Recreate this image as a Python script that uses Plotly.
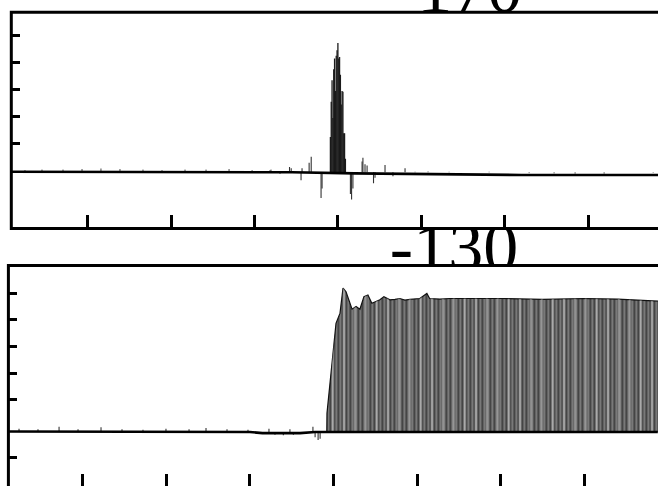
import plotly.graph_objects as go

W, H = 658, 486

# ---------------- data: top panel (-170) ----------------
top_base_x = [8, 150, 280, 330, 345, 420, 500, 560, 620, 700, 784]
top_base_y = [0.02, 0.02, 0.01, 0.0, 0.0, -0.04, -0.07, -0.09, -0.1, -0.1, -0.1]

top_peak_x = [391, 392, 393, 394, 395, 396, 397, 398, 399, 400,
              401, 402, 403, 404, 405, 406, 407, 408, 409]
top_peak_y = [1.3, 2.6, 3.4, 2.0, 3.8, 4.2, 3.0, 4.3, 4.5, 4.77,
              4.2, 4.25, 3.6, 2.5, 3.0, 2.97, 1.44, 1.44, 0.5]

top_side_x = [318.6, 342, 344, 357, 365.5, 368, 429, 430, 432.5, 435, 456.5, 480.5]
top_side_y = [0.08, 0.2, 0.15, 0.15, 0.35, 0.57, 0.4, 0.54, 0.3, 0.25, 0.27, 0.15]

top_neg_x = [330.6, 355.8, 379.8, 381, 415, 416.4, 418, 442.7, 444.5, 466]
top_neg_y = [-0.05, -0.29, -0.95, -0.6, -0.8, -1.0, -0.6, -0.4, -0.2, -0.15]

top_noise_x = [24.8, 45.2, 70.4, 93.2, 115.9, 138.7, 166.3, 189.1, 216.7, 241.9,
               269.5, 297.1, 319.8, 492.5, 508.1, 533.3, 556.1, 581.3, 599.3,
               629.3, 659.2, 684.4, 719.2, 778]
top_noise_y = [0.08, 0.1, 0.1, 0.12, 0.14, 0.12, 0.1, 0.08, 0.1, 0.1,
               0.12, 0.08, 0.1, 0.02, 0.03, 0.02, 0.0, 0.02, 0.0,
               -0.03, -0.04, -0.05, -0.05, -0.02]

# ---------------- data: bottom panel (-130) ----------------
bot_base_x = [11, 300, 315, 360, 378, 788]
bot_base_y = [0.02, 0.0, -0.04, -0.04, 0.0, 0.0]

bot_noise_x = [23.8, 46.5, 71.7, 94.4, 121.9, 147, 172.1, 199.6, 227.2, 247.5,
               272.6, 297.7, 322.8, 347.9, 375.4]
bot_noise_y = [0.12, 0.1, 0.2, 0.1, 0.18, 0.1, 0.08, 0.12, 0.1, 0.15,
               0.1, 0.08, 0.12, 0.1, 0.2]
bot_neg_x = [330, 340, 352, 378, 381.6, 384]
bot_neg_y = [-0.1, -0.12, -0.1, -0.2, -0.3, -0.25]

env_x = [391, 392, 392.2, 395.8, 399.4, 403, 407.8, 411.4, 415, 418.6, 422.2,
         427, 431.6, 436.4, 441.2, 445.9, 450.7, 455.5, 460.3, 467.5, 473.5,
         479.4, 485.4, 491.4, 503.3, 511.7, 515, 527.3, 539.2, 551.2, 600,
         650, 700, 740, 766.7, 778.7, 788.2]
env_y = [0, 0, 0.7, 1.84, 3.07, 4.07, 4.45, 5.39, 5.25, 4.88, 4.6,
         4.7, 4.6, 5.07, 5.13, 4.82, 4.88, 4.95, 5.07, 4.95, 4.97,
         5.0, 4.94, 4.97, 5.0, 5.19, 5.0, 4.98, 5.0, 5.0, 5.0,
         4.97, 5.0, 4.98, 4.95, 4.93, 4.9]

x_ticks = [100, 200, 300, 400, 500, 600, 700]
top_yticks = [1.06, 2.06, 3.06, 4.06, 5.06]
bot_yticks = [-0.95, 1.2, 2.2, 3.2, 4.2, 5.2]

titles = ["-170", "-130"]


def stems(xs, ys, base=0.0):
    sx, sy = [], []
    for x, y in zip(xs, ys):
        sx += [x, x, None]
        sy += [base, y, None]
    return sx, sy


def px_x(p):
    return p / W


def px_y(p):
    return 1 - p / H


fig = go.Figure()

# top panel
sx, sy = stems(top_peak_x, top_peak_y)
fig.add_trace(go.Scatter(x=sx, y=sy, mode="lines", line=dict(color="#1a1a1a", width=1.3),
                         xaxis="x", yaxis="y", hoverinfo="skip"))
sx, sy = stems(top_side_x + top_neg_x, top_side_y + top_neg_y)
fig.add_trace(go.Scatter(x=sx, y=sy, mode="lines", line=dict(color="#333", width=1.1),
                         xaxis="x", yaxis="y", hoverinfo="skip"))
sx, sy = stems(top_noise_x, top_noise_y)
fig.add_trace(go.Scatter(x=sx, y=sy, mode="lines", line=dict(color="#444", width=1),
                         xaxis="x", yaxis="y", hoverinfo="skip"))
fig.add_trace(go.Scatter(x=top_base_x, y=top_base_y, mode="lines",
                         line=dict(color="black", width=2.6), xaxis="x", yaxis="y",
                         hoverinfo="skip"))

# bottom panel
fig.add_trace(go.Scatter(x=env_x, y=env_y, mode="lines", line=dict(color="#111", width=1.2),
                         fill="tozeroy", fillcolor="rgba(0,0,0,0)",
                         fillpattern=dict(shape="|", fgcolor="black", bgcolor="#8a8a8a",
                                          size=4, solidity=0.62),
                         xaxis="x2", yaxis="y2", hoverinfo="skip"))
fig.add_trace(go.Scatter(x=env_x, y=env_y, mode="lines", line=dict(color="rgba(0,0,0,0)", width=0),
                         fill="tozeroy", fillcolor="rgba(0,0,0,0)",
                         fillpattern=dict(shape="|", fgcolor="white", bgcolor="rgba(0,0,0,0)",
                                          size=11, solidity=0.15),
                         xaxis="x2", yaxis="y2", hoverinfo="skip"))
sx, sy = stems(bot_noise_x + bot_neg_x, bot_noise_y + bot_neg_y)
fig.add_trace(go.Scatter(x=sx, y=sy, mode="lines", line=dict(color="#333", width=1.1),
                         xaxis="x2", yaxis="y2", hoverinfo="skip"))
fig.add_trace(go.Scatter(x=bot_base_x, y=bot_base_y, mode="lines",
                         line=dict(color="black", width=2.6), xaxis="x2", yaxis="y2",
                         hoverinfo="skip"))

# titles (partly hidden behind the panels -> clipped text in gap axes)
tfont = dict(family="Liberation Serif", size=70, color="black")
fig.add_trace(go.Scatter(x=[458], y=[6], mode="text", text=[titles[0]], textfont=tfont,
                         textposition="middle center", cliponaxis=True,
                         xaxis="x4", yaxis="y4", hoverinfo="skip"))
fig.add_trace(go.Scatter(x=[454], y=[-253], mode="text", text=[titles[1]], textfont=tfont,
                         textposition="middle center", cliponaxis=True,
                         xaxis="x3", yaxis="y3", hoverinfo="skip"))

common_tick = dict(ticks="inside", tickcolor="black", tickwidth=3, showticklabels=False,
                   showgrid=False, zeroline=False, showline=False, fixedrange=True)

fig.update_layout(
    width=W, height=H, margin=dict(l=0, r=0, t=0, b=0),
    paper_bgcolor="white", plot_bgcolor="white", showlegend=False,
    xaxis=dict(domain=[px_x(11.3), 1], range=[8.4, 783.8], anchor="y",
               tickvals=x_ticks, ticklen=14, **common_tick),
    yaxis=dict(domain=[px_y(228.5), px_y(12.3)], range=[-2.074, 5.904], anchor="x",
               tickvals=top_yticks, ticklen=9, **common_tick),
    xaxis2=dict(domain=[px_x(8.4), 1], range=[11.1, 788.2], anchor="y2",
                tickvals=x_ticks, ticklen=12, **common_tick),
    yaxis2=dict(domain=[0, px_y(265.5)], range=[-2.022, 6.236], anchor="x2",
                tickvals=bot_yticks, ticklen=9, **common_tick),
    xaxis3=dict(domain=[0, 1], range=[0, W], anchor="y3", visible=False),
    yaxis3=dict(domain=[px_y(265), px_y(229.5)], range=[-265, -229.5], anchor="x3", visible=False),
    xaxis4=dict(domain=[0, 1], range=[0, W], anchor="y4", visible=False),
    yaxis4=dict(domain=[px_y(12), 1], range=[-12, 0], anchor="x4", visible=False),
    shapes=[
        dict(type="rect", xref="paper", yref="paper", x0=px_x(11.3), x1=1.2,
             y0=px_y(228.5), y1=px_y(12.3), line=dict(color="black", width=3), layer="above"),
        dict(type="rect", xref="paper", yref="paper", x0=px_x(8.4), x1=1.2,
             y0=-0.1, y1=px_y(265.5), line=dict(color="black", width=3), layer="above"),
    ],
)

fig.write_html("out.html", config={"displayModeBar": False, "staticPlot": True},
               post_script="document.body.style.margin='0';document.body.style.overflow='hidden';")
